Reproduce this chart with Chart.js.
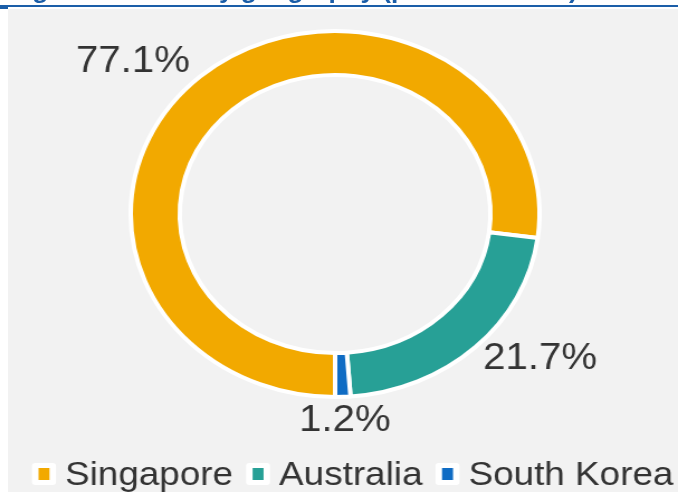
<!DOCTYPE html>
<html>
<head>
<meta charset="utf-8">
<script src="https://cdn.jsdelivr.net/npm/chart.js@4.4.0/dist/chart.umd.min.js"></script>
<style>
  html, body { margin: 0; padding: 0; background: #fff; width: 678px; height: 492px; overflow: hidden; }
  #rule { position: absolute; left: 0; top: 5px; width: 678px; height: 2.4px; background: #1b5ea8; }
  #tick { position: absolute; left: 0; top: 7px; width: 8px; height: 1.6px; background: #1b5ea8; }
  #panel { position: absolute; left: 8px; top: 9px; right: 0; bottom: 0; background: #f2f2f2; }
  /* the source picture is stretched sideways, so the whole chart is too */
  #stretch { position: absolute; left: 0; top: 0; width: 607px; height: 492px; transform: scaleX(1.117); transform-origin: 0 0; }
  #title { position: absolute; left: 8px; top: -21px; font: bold 23.5px/23.5px "Liberation Sans", Arial, sans-serif; color: #1b5ea8; white-space: nowrap; }
  #chart { position: absolute; left: 0; top: 0; }
</style>
</head>
<body>
<div id="rule"></div>
<div id="tick"></div>
<div id="panel"></div>
<div id="stretch">
  <div id="title">Figure 3: Value by geography (percent of NPI)</div>
  <canvas id="chart" width="607" height="492"></canvas>
</div>
<script>
// --- DONNÉES ---
const categories = ['Singapore', 'Australia', 'South Korea'];
const shares = [77.1, 21.7, 1.2];

// --- STYLE ---
const colours = ['#f2a900', '#27a096', '#0f6cc4'];
const textColour = '#333333';
// placement of each % label: angle shift (deg) from slice middle, distance as share of radius
const labelPlace = [
    { turn: -8.3, reach: 1.30 },
    { turn: -8.8, reach: 1.27 },
    { turn: -0.3, reach: 1.116 }
];

const pctLabels = {
    id: 'pctLabels',
    afterDatasetsDraw(chart) {
        const ctx = chart.ctx;
        const arcs = chart.getDatasetMeta(0).data;
        ctx.save();
        ctx.font = '36px "Liberation Sans", Arial, sans-serif';
        ctx.fillStyle = textColour;
        ctx.textAlign = 'center';
        ctx.textBaseline = 'alphabetic';
        arcs.forEach((arc, i) => {
            const p = arc.getProps(['x', 'y', 'startAngle', 'endAngle', 'outerRadius'], true);
            const mid = (p.startAngle + p.endAngle) / 2 + labelPlace[i].turn * Math.PI / 180;
            const r = p.outerRadius * labelPlace[i].reach;
            const x = p.x + Math.cos(mid) * r;
            const y = p.y + Math.sin(mid) * r;
            ctx.fillText(shares[i].toFixed(1) + '%', x, y + 36 * 0.358);
        });
        ctx.restore();
    }
};

// légende dessinée à la main (boîte blanche + carré de couleur)
const boxLegend = {
    id: 'boxLegend',
    afterDraw(chart) {
        const ctx = chart.ctx;
        ctx.save();
        ctx.font = '33px "Liberation Sans", Arial, sans-serif';
        ctx.textBaseline = 'alphabetic';
        ctx.textAlign = 'left';
        let x = 28.6;
        const top = 463, base = 485;
        categories.forEach((name, i) => {
            ctx.fillStyle = '#ffffff';
            ctx.beginPath();
            ctx.roundRect(x, top, 21.5, 22, 3);
            ctx.fill();
            ctx.fillStyle = colours[i];
            ctx.fillRect(x + 5.9, top + 5, 9.8, 12);
            ctx.fillStyle = textColour;
            const tx = x + 29.6;
            ctx.fillText(name, tx, base);
            x = tx + ctx.measureText(name).width + 11.6;
        });
        ctx.restore();
    }
};

new Chart(document.getElementById('chart'), {
    type: 'doughnut',
    data: {
        labels: categories,
        datasets: [{
            data: shares,
            backgroundColor: colours,
            borderColor: '#ffffff',
            borderWidth: 4,
            hoverBorderWidth: 4
        }]
    },
    options: {
        responsive: false,
        animation: false,
        events: [],
        rotation: 180,
        cutout: '76%',
        layout: { padding: { top: 29, bottom: 93, left: 0, right: 7 } },
        plugins: {
            legend: { display: false },
            tooltip: { enabled: false }
        }
    },
    plugins: [pctLabels, boxLegend]
});
</script>
</body>
</html>
